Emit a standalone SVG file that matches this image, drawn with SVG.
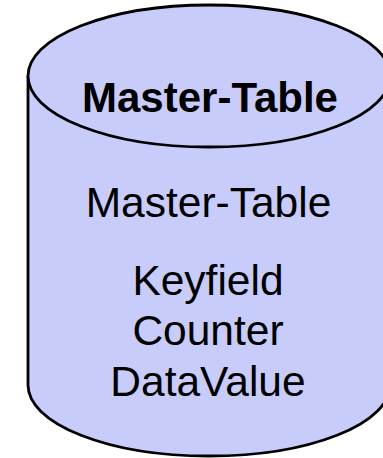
<svg xmlns="http://www.w3.org/2000/svg" width="383" height="458" viewBox="0 0 383 458">
<style>
.shape{fill:#C8CCFA;stroke:#000;stroke-width:2.8}
.t{font-family:"Liberation Sans",Arial,sans-serif;font-size:42.5px;fill:#000;text-anchor:middle}
.b{font-weight:bold;font-size:42px}
</style>
<g id="master-table">
<path class="shape" d="M28,76 L28,385 A181,71 0 0 0 390,385 L390,76"/>
<ellipse class="shape" cx="209" cy="76" rx="181" ry="71"/>
<text class="t b" x="210" y="112">Master-Table</text>
<text class="t" x="208.5" y="217">Master-Table</text>
<text class="t" x="208" y="295">Keyfield</text>
<text class="t" x="208" y="345">Counter</text>
<text class="t" x="208" y="396">DataValue</text>
</g>
</svg>
